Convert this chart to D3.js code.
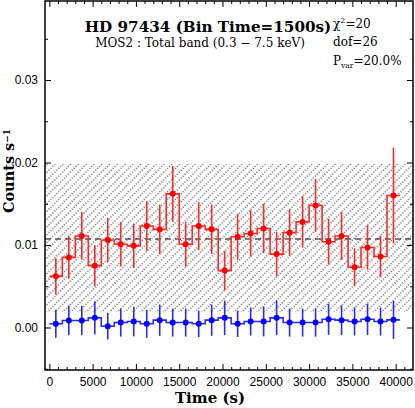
<!DOCTYPE html>
<html>
<head>
<meta charset="utf-8">
<script src="https://cdn.jsdelivr.net/npm/d3@7"></script>
<style>
  body { margin: 0; background: #fff; }
  svg { display: block; }
  .tick text { font-family: "Liberation Sans", Arial, sans-serif; font-size: 12px; fill: #000; }
  .serif { font-family: "DejaVu Serif", serif; fill: #000; }
</style>
</head>
<body>
<svg id="chart" width="415" height="408"></svg>
<script>
// bin centres (s), 1500 s bins
const binTimes = [750, 2250, 3750, 5250, 6750, 8250, 9750, 11250, 12750, 14250,
    15750, 17250, 18750, 20250, 21750, 23250, 24750, 26250, 27750, 29250,
    30750, 32250, 33750, 35250, 36750, 38250, 39750];
const binWidth = 1500;

// total band (red)
const totalRate = [0.0062, 0.0085, 0.0111, 0.0075, 0.0106, 0.0101, 0.0099, 0.0123, 0.0119, 0.0162,
    0.0101, 0.0123, 0.0119, 0.0069, 0.0110, 0.0114, 0.0120, 0.0089, 0.0115, 0.0128,
    0.0148, 0.0104, 0.0111, 0.0073, 0.0097, 0.0086, 0.0160];
const totalErr = [0.0022, 0.0026, 0.0029, 0.0025, 0.0027, 0.0027, 0.0027, 0.0030, 0.0030, 0.0034,
    0.0027, 0.0029, 0.0030, 0.0024, 0.0028, 0.0028, 0.0030, 0.0027, 0.0028, 0.0031,
    0.0032, 0.0028, 0.0029, 0.0023, 0.0027, 0.0025, 0.0058];

// background (blue)
const bkgRate = [0.00045, 0.00085, 0.00085, 0.00117, 0.00016, 0.0006, 0.00073, 0.00045, 0.00089, 0.0006,
    0.0006, 0.00045, 0.00089, 0.00117, 0.00045, 0.00073, 0.00073, 0.00117, 0.0006, 0.0006,
    0.0006, 0.001, 0.00089, 0.00073, 0.001, 0.00073, 0.00093];
const bkgErr = [0.0017, 0.0018, 0.0018, 0.0020, 0.0016, 0.0017, 0.0018, 0.0017, 0.0019, 0.0017,
    0.0017, 0.0016, 0.0019, 0.0021, 0.0016, 0.0017, 0.0018, 0.0021, 0.0017, 0.0017,
    0.0017, 0.0019, 0.0018, 0.0017, 0.0019, 0.0017, 0.0023];

const meanRate = 0.01073;
const bandLow = 0.00188, bandHigh = 0.01982;

const xMajor = [0, 5000, 10000, 15000, 20000, 25000, 30000, 35000, 40000];
const yMajor = [0.00, 0.01, 0.02, 0.03];

const svg = d3.select("#chart");
const mLeft = 45, mRight = 413, mTop = 1, mBottom = 370;

const x = d3.scaleLinear().domain([-500, 42000]).range([mLeft, mRight]);
const y = d3.scaleLinear().domain([-0.00515, 0.03958]).range([mBottom, mTop]);

const xMinor = d3.range(0, 42000, 1000).filter(v => v % 5000 !== 0);
const yMinor = d3.range(-0.005, 0.036, 0.005).filter(v => Math.abs(v / 0.01 - Math.round(v / 0.01)) > 0.1);

// hatch pattern
const defs = svg.append("defs");
const pat = defs.append("pattern")
    .attr("id", "hatch")
    .attr("patternUnits", "userSpaceOnUse")
    .attr("width", 5.5)
    .attr("height", 5.5)
    .attr("patternTransform", "rotate(45)");
pat.append("line")
    .attr("x1", 1).attr("y1", 0).attr("x2", 1).attr("y2", 5.5)
    .attr("stroke", "#222")
    .attr("stroke-width", 1)
    .attr("stroke-dasharray", "1.1,1.65");

defs.append("clipPath").attr("id", "plotclip")
    .append("rect").attr("x", mLeft).attr("y", mTop)
    .attr("width", mRight - mLeft).attr("height", mBottom - mTop);

const plot = svg.append("g").attr("clip-path", "url(#plotclip)");

plot.append("rect")
    .attr("x", mLeft)
    .attr("width", mRight - mLeft)
    .attr("y", y(bandHigh))
    .attr("height", y(bandLow) - y(bandHigh))
    .attr("fill", "url(#hatch)");

plot.append("line")
    .attr("x1", mLeft).attr("x2", mRight)
    .attr("y1", y(meanRate)).attr("y2", y(meanRate))
    .attr("stroke", "#000")
    .attr("stroke-width", 1.2)
    .attr("stroke-dasharray", "6,4");

function drawSeries(rates, errs, color, lineColor) {
    const steps = [];
    binTimes.forEach((t, i) => {
        steps.push([t - binWidth / 2, rates[i]]);
        steps.push([t + binWidth / 2, rates[i]]);
    });
    plot.append("path")
        .datum(steps)
        .attr("fill", "none")
        .attr("stroke", lineColor)
        .attr("stroke-width", 1.6)
        .attr("d", d3.line().x(d => x(d[0])).y(d => y(d[1])));

    plot.selectAll(null)
        .data(binTimes)
        .enter()
        .append("line")
        .attr("x1", d => x(d)).attr("x2", d => x(d))
        .attr("y1", (d, i) => y(rates[i] - errs[i]))
        .attr("y2", (d, i) => y(rates[i] + errs[i]))
        .attr("stroke", lineColor)
        .attr("stroke-width", 1.6);

    plot.selectAll(null)
        .data(binTimes)
        .enter()
        .append("circle")
        .attr("cx", d => x(d))
        .attr("cy", (d, i) => y(rates[i]))
        .attr("r", 3)
        .attr("fill", color);
}

drawSeries(totalRate, totalErr, "#ff0000", "#ff2a2a");
drawSeries(bkgRate, bkgErr, "#0000ff", "#2a2aff");

// axes, ticks pointing inward on all four sides
function tickAxis(axisFn, scale, pos, major, minor, labels) {
    const gMaj = svg.append("g").attr("transform", pos)
        .call(axisFn(scale).tickValues(major).tickSize(-6).tickPadding(7)
            .tickFormat(labels ? labels : ""));
    const gMin = svg.append("g").attr("transform", pos)
        .call(axisFn(scale).tickValues(minor).tickSize(-3).tickFormat(""));
    [gMaj, gMin].forEach(g => {
        g.select(".domain").remove();
        g.selectAll(".tick line").attr("stroke", "#000").attr("stroke-width", 1);
    });
    return gMaj;
}

tickAxis(d3.axisBottom, x, `translate(0,${mBottom})`, xMajor, xMinor, d3.format("d"));
tickAxis(d3.axisTop, x, `translate(0,${mTop})`, xMajor, xMinor, null);
tickAxis(d3.axisLeft, y, `translate(${mLeft},0)`, yMajor, yMinor, d3.format(".2f"));
tickAxis(d3.axisRight, y, `translate(${mRight},0)`, yMajor, yMinor, null);

svg.append("rect")
    .attr("x", mLeft).attr("y", mTop)
    .attr("width", mRight - mLeft).attr("height", mBottom - mTop)
    .attr("fill", "none")
    .attr("stroke", "#000")
    .attr("stroke-width", 1.5);

// titles
svg.append("text").attr("class", "serif")
    .attr("x", 208).attr("y", 32)
    .attr("text-anchor", "middle")
    .attr("font-size", 15.2).attr("font-weight", "bold")
    .text("HD 97434 (Bin Time=1500s)");

svg.append("text").attr("class", "serif")
    .attr("x", 200).attr("y", 47)
    .attr("text-anchor", "middle")
    .attr("font-size", 12)
    .text("MOS2 : Total band (0.3 \u2212 7.5 keV)");

const chi = svg.append("text").attr("class", "serif")
    .attr("x", 333).attr("y", 28).attr("font-size", 12);
chi.append("tspan").text("\u03c7");
chi.append("tspan").attr("font-size", 8).attr("dy", -5).text("2");
chi.append("tspan").attr("dy", 5).text("=20");

svg.append("text").attr("class", "serif")
    .attr("x", 333).attr("y", 46).attr("font-size", 12)
    .text("dof=26");

const pv = svg.append("text").attr("class", "serif")
    .attr("x", 333).attr("y", 65).attr("font-size", 12);
pv.append("tspan").text("P");
pv.append("tspan").attr("font-size", 7.5).attr("dy", 3).text("var");
pv.append("tspan").attr("dy", -3).text("=20.0%");

svg.append("text").attr("class", "serif")
    .attr("x", 210).attr("y", 403)
    .attr("text-anchor", "middle")
    .attr("font-size", 15).attr("font-weight", "bold")
    .text("Time (s)");

const ylab = svg.append("text").attr("class", "serif")
    .attr("transform", "translate(14,171) rotate(-90)")
    .attr("text-anchor", "middle")
    .attr("font-size", 14.5).attr("font-weight", "bold");
ylab.append("tspan").text("Counts s");
ylab.append("tspan").attr("font-size", 9).attr("dy", -4.5).text("\u22121");
</script>
</body>
</html>
